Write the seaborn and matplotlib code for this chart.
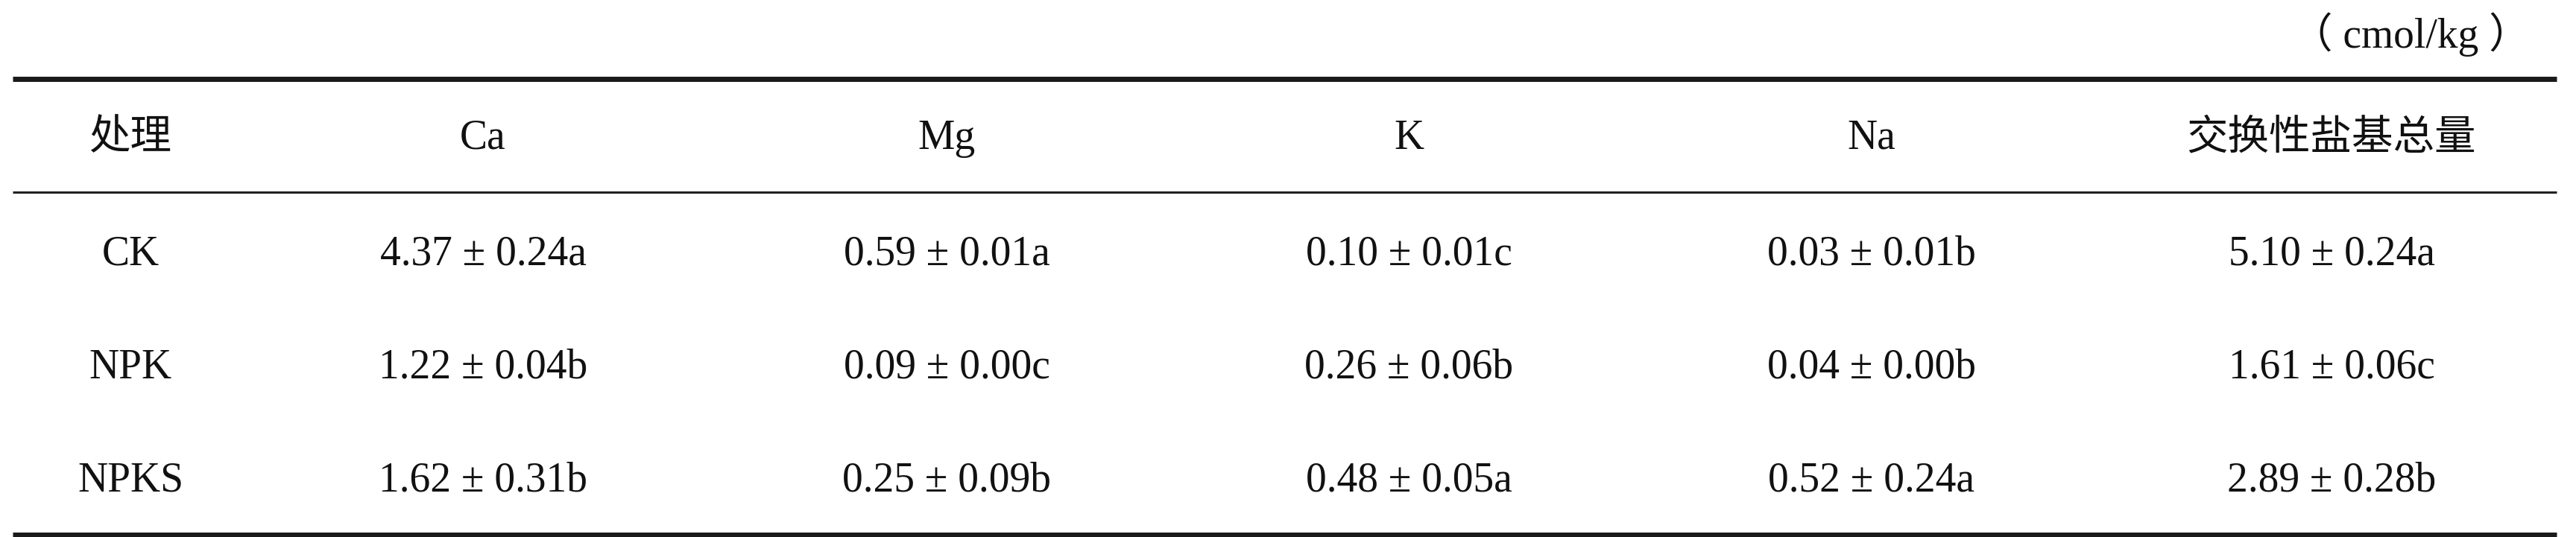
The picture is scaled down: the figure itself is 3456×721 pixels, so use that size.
import numpy as np
import pandas as pd
import matplotlib
matplotlib.use("Agg")
import matplotlib.pyplot as plt
import seaborn as sns

# DATA
treatments = ["CK", "NPK", "NPKS"]
columns = ["处理", "Ca", "Mg", "K", "Na", "交换性盐基总量"]
unit = "（ cmol/kg ）"

ca_mean = [4.37, 1.22, 1.62]
ca_sd = [0.24, 0.04, 0.31]
ca_sig = ["a", "b", "b"]

mg_mean = [0.59, 0.09, 0.25]
mg_sd = [0.01, 0.00, 0.09]
mg_sig = ["a", "c", "b"]

k_mean = [0.10, 0.26, 0.48]
k_sd = [0.01, 0.06, 0.05]
k_sig = ["c", "b", "a"]

na_mean = [0.03, 0.04, 0.52]
na_sd = [0.01, 0.00, 0.24]
na_sig = ["b", "b", "a"]

total_mean = [5.10, 1.61, 2.89]
total_sd = [0.24, 0.06, 0.28]
total_sig = ["a", "c", "b"]


def fmt(means, sds, sigs):
    return [f"{m:.2f} ± {s:.2f}{g}" for m, s, g in zip(means, sds, sigs)]


df = pd.DataFrame({
    "处理": treatments,
    "Ca": fmt(ca_mean, ca_sd, ca_sig),
    "Mg": fmt(mg_mean, mg_sd, mg_sig),
    "K": fmt(k_mean, k_sd, k_sig),
    "Na": fmt(na_mean, na_sd, na_sig),
    "交换性盐基总量": fmt(total_mean, total_sd, total_sig),
})

# LAYOUT (pixel space)
W, H = 3456, 721
col_x = [175, 648, 1270, 1890, 2511, 3128]
header_y = 200
row_y = [355, 508, 660]
fs = 40

sns.set_theme(style="white")
plt.rcParams["font.family"] = ["Liberation Serif", "Noto Sans CJK SC", "DejaVu Sans"]

fig = plt.figure(figsize=(W / 100, H / 100), dpi=100)
ax = fig.add_axes([0, 0, 1, 1])
ax.set_xlim(0, W)
ax.set_ylim(H, 0)
ax.axis("off")

# RULES
ax.hlines(106, 17, 3430, color="#1a1a1a", lw=5)
ax.hlines(258, 17, 3430, color="#222222", lw=2.2)
ax.hlines(718, 17, 3430, color="#1a1a1a", lw=5)

# UNIT
ax.text(3395, 64, unit, ha="right", va="baseline", fontsize=fs, color="#111111")

# HEADER
for x, name in zip(col_x, columns):
    ax.text(x, header_y, name, ha="center", va="baseline", fontsize=fs, color="#111111")

# BODY
for i, y in enumerate(row_y):
    for x, name in zip(col_x, columns):
        ax.text(x, y, df[name].iloc[i], ha="center", va="baseline",
                fontsize=fs, color="#111111")

fig.savefig("out.png", dpi=100, facecolor="white")
